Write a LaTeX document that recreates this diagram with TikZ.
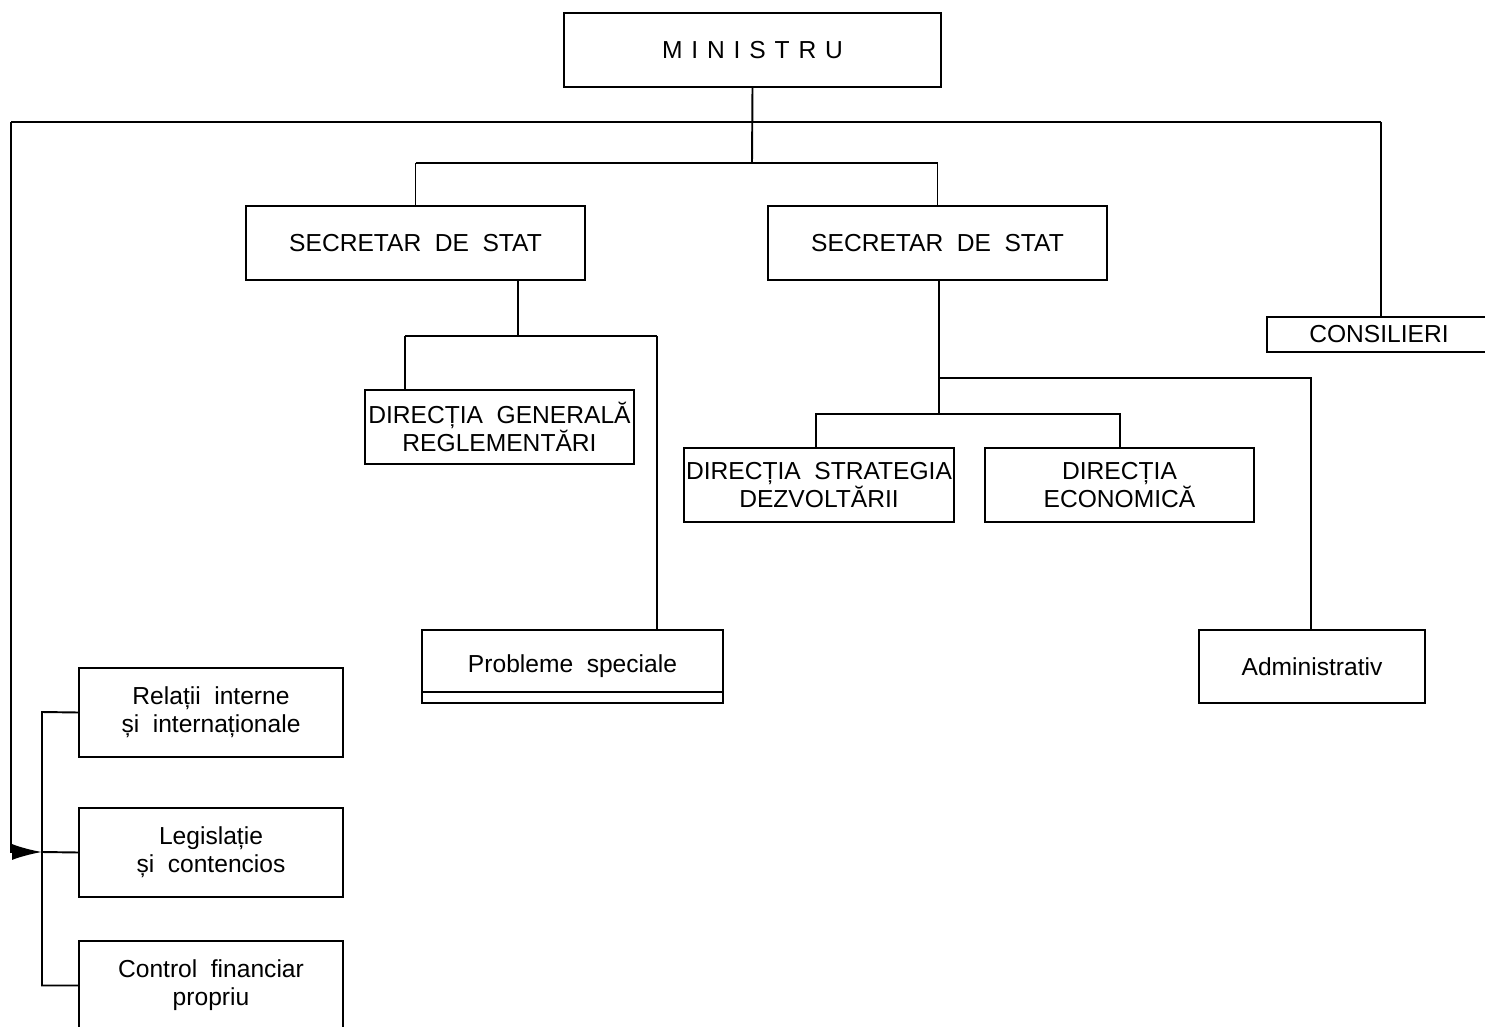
\documentclass[tikz,border=0pt]{standalone}
\usepackage{fontspec}
\setmainfont{Liberation Sans}
\usetikzlibrary{arrows.meta}
\newcommand\bx[7][]{%
  \node[box,#1,minimum width={(#4-#2)*0.02cm},minimum height={(#5-#3)*0.02cm}]
    (#6) at ({(#2+#4)/2},{(#3+#5)/2}) {#7};}
\tikzset{
  box/.style={draw,line width=1.1pt,inner sep=0pt,align=center,font=\fontsize{14}{16}\selectfont},
  conn/.style={line width=1.1pt},
}
\newcommand\ws{\hspace{0.55em}}
\begin{document}
\begin{tikzpicture}[x=0.02cm,y=-0.02cm]
\clip (0,0) rectangle (1485,1027);
\fill[white] (0,0) rectangle (1485,1027);
% boxes
\bx{564}{13}{941}{87}{min}{M\hspace{0.36em}I\hspace{0.36em}N\hspace{0.36em}I\hspace{0.36em}S\hspace{0.36em}T\hspace{0.36em}R\hspace{0.36em}U}
\bx{246}{206}{585}{280}{ss1}{SECRETAR\ws DE\ws STAT}
\bx{768}{206}{1107}{280}{ss2}{SECRETAR\ws DE\ws STAT}
\bx{1267}{317}{1520}{352}{cons}{\hspace*{-0.58cm}CONSILIERI}
\bx{365}{390}{634}{464}{dg}{DIRECȚIA\ws GENERALĂ\\REGLEMENTĂRI}
\bx{684}{448}{954}{522}{ds}{DIRECȚIA\ws STRATEGIA\\DEZVOLTĂRII}
\bx{985}{448}{1254}{522}{de}{DIRECȚIA\\ECONOMICĂ}
\bx{422}{630}{723}{703}{ps}{\raisebox{0.05cm}{Probleme\ws speciale}}
\bx{1199}{630}{1425}{703}{adm}{Administrativ}
\bx{79}{668}{343}{757}{rel}{Relații\ws interne\\și\ws internaționale}
\bx{79}{808}{343}{897}{leg}{Legislație\\și\ws contencios}
\bx{79}{941}{343}{1030}{ctl}{Control\ws financiar\\propriu}
\draw[conn] ([yshift=0.24cm]ps.south west) -- ([yshift=0.24cm]ps.south east);
% junction coordinates
\coordinate (m2) at (752,163);
\coordinate (lt) at (11,122);
\coordinate (rt) at (1381,122);
\coordinate (ar) at (11,852);
\coordinate (br) at (42,852);
% connectors
\draw[conn] (min.south) -- (m2);
\draw[conn] (lt) -- (rt);
\draw[conn] (rt) -- (rt |- cons.north);
\draw[conn,-{Latex[length=0.6cm,width=0.32cm]}] (lt) -- (ar) -- (br);
\draw[conn] (ss1.north |- m2) -- (ss2.north |- m2);
\draw[conn] (ss1.north |- m2) -- (ss1.north);
\draw[conn] (ss2.north |- m2) -- (ss2.north);
% SS1 subtree
\draw[conn] (518,280) -- (518,336);
\draw[conn] (405,336) -- (657,336);
\draw[conn] (405,336) -- (405,390);
\draw[conn] (657,336) -- (657,630);
% SS2 subtree
\draw[conn] (939,280) -- (939,414);
\draw[conn] (939,378) -- (1311,378) -- (1311,630);
\draw[conn] (816,448) -- (816,414) -- (1120,414) -- (1120,448);
% left bracket
\draw[conn] (rel.west) -- (42,712) -- (42,985.5) -- (ctl.west);
\draw[conn] (br) -- (leg.west);
\end{tikzpicture}
\end{document}
